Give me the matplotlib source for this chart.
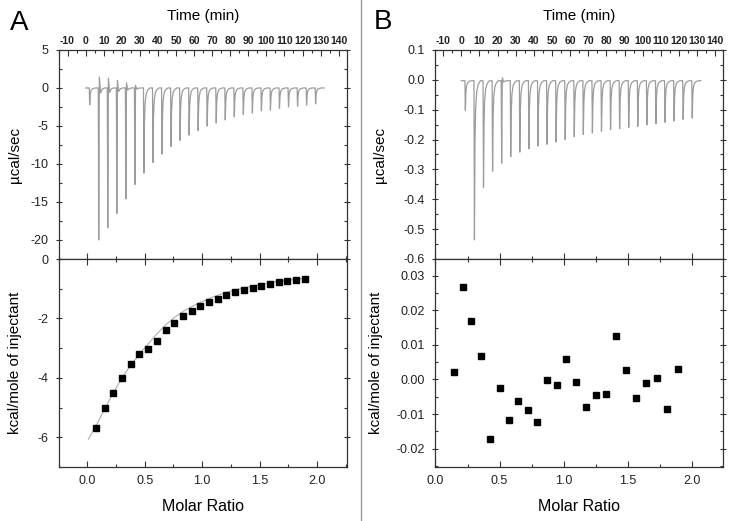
import matplotlib
matplotlib.use("Agg")
import matplotlib.pyplot as plt
from matplotlib.ticker import MultipleLocator, FormatStrFormatter
from matplotlib.lines import Line2D

plt.rcParams['font.family'] = ['Liberation Sans', 'DejaVu Sans']
plt.rcParams['axes.unicode_minus'] = False

# injection times (min), same for both runs
inj_time = [2, 7, 12, 17, 22, 27, 32, 37, 42, 47, 52, 57, 62, 67,
            72, 77, 82, 87, 92, 97, 102, 107, 112, 117, 122, 127]

# panel A raw thermogram: peak minima and positive overshoots (ucal/sec)
a_peak = [-2.2, -20.0, -18.4, -16.5, -14.6, -12.7, -11.2, -9.8, -8.7, -7.7,
          -6.9, -6.2, -5.6, -5.0, -4.6, -4.2, -3.8, -3.5, -3.3, -3.0,
          -2.9, -2.7, -2.5, -2.4, -2.25, -2.1]
a_over = [0, 1.45, 1.3, 1.0, 0.65, 0.35, 0, 0, 0, 0, 0, 0, 0, 0, 0, 0,
          0, 0, 0, 0, 0, 0, 0, 0, 0, 0]
a_base = 0.0

# panel B raw thermogram
b_peak = [-0.102, -0.536, -0.36, -0.306, -0.279, -0.257, -0.242, -0.231,
          -0.222, -0.216, -0.208, -0.2, -0.19, -0.183, -0.178, -0.172,
          -0.167, -0.164, -0.159, -0.156, -0.151, -0.147, -0.142, -0.138,
          -0.132, -0.128]
b_over = [0, 0, 0, 0, 0.01, 0, 0, 0, 0, 0, 0, 0, 0, 0, 0, 0,
          0, 0, 0, 0, 0, 0, 0, 0, 0, 0]
b_base = -0.003

# panel A integrated heats (kcal/mole of injectant)
a_ratio = [0.075, 0.151, 0.227, 0.302, 0.378, 0.454, 0.529, 0.605, 0.681,
           0.757, 0.832, 0.908, 0.984, 1.059, 1.135, 1.211, 1.286, 1.362,
           1.438, 1.514, 1.589, 1.665, 1.741, 1.816, 1.892]
a_heat = [-5.68, -5.03, -4.50, -4.01, -3.53, -3.18, -3.02, -2.75, -2.40,
          -2.14, -1.91, -1.74, -1.57, -1.44, -1.33, -1.22, -1.11, -1.03,
          -0.98, -0.91, -0.84, -0.78, -0.74, -0.70, -0.66]
fit_ratio = [0.01, 0.075, 0.151, 0.227, 0.302, 0.378, 0.454, 0.529, 0.605,
             0.681, 0.757, 0.832, 0.908, 0.984, 1.059, 1.135, 1.211, 1.286,
             1.362, 1.438, 1.514, 1.589, 1.665, 1.741, 1.816, 1.892]
fit_heat = [-6.06, -5.62, -5.05, -4.50, -4.00, -3.57, -3.20, -2.86, -2.52,
            -2.22, -1.97, -1.77, -1.60, -1.46, -1.33, -1.22, -1.12, -1.04,
            -0.97, -0.91, -0.85, -0.80, -0.75, -0.71, -0.68, -0.65]

# panel B integrated heats
b_ratio = [0.141, 0.214, 0.281, 0.354, 0.427, 0.500, 0.573, 0.646, 0.721,
           0.794, 0.870, 0.945, 1.021, 1.099, 1.174, 1.253, 1.331, 1.409,
           1.484, 1.565, 1.646, 1.727, 1.807, 1.891]
b_heat = [0.0022, 0.0268, 0.0168, 0.0067, -0.0172, -0.0026, -0.0117, -0.0062,
          -0.0087, -0.0122, -0.0002, -0.0017, 0.0058, -0.0007, -0.0080,
          -0.0045, -0.0041, 0.0126, 0.0028, -0.0053, -0.0009, 0.0004,
          -0.0084, 0.0030]

# shape of one injection peak: (time offset, fraction of peak depth)
SHAPE = [(0.0, 0.0), (0.25, 1.0), (0.55, 0.4), (0.9, 0.18), (1.5, 0.07),
         (2.3, 0.025), (3.5, 0.0)]

GREY = '#9c9c9c'
FRAME = '#333333'


def build_trace(times, peaks, over, base, t_end=132):
    t, y = [0.0], [base]
    for ti, p, o in zip(times, peaks, over):
        for dt, f in SHAPE:
            if o and dt == 0.55:
                t += [ti + 0.6, ti + 1.3, ti + 2.2]
                y += [base + o, base - 0.45 * o, base - 0.1 * o]
                break
            t.append(ti + dt)
            y.append(base + f * (p - base))
        else:
            continue
        t.append(ti + 3.5)
        y.append(base)
    t.append(t_end)
    y.append(base)
    return t, y


def style(ax):
    for s in ax.spines.values():
        s.set_color(FRAME)
        s.set_linewidth(0.9)
    ax.tick_params(which='both', colors=FRAME, width=0.8, labelsize=9,
                   labelcolor='#222222')
    ax.tick_params(which='major', length=4)
    ax.tick_params(which='minor', length=2.5)


def raw_panel(ax, times, peaks, over, base, tlim, rlim, ylim, ystep, fmt):
    t, y = build_trace(times, peaks, over, base)
    ax.plot(t, y, color=GREY, lw=0.9)
    ax.set_xlim(tlim)
    ax.set_ylim(ylim)
    style(ax)
    ax.xaxis.tick_top()
    ax.xaxis.set_major_locator(MultipleLocator(10))
    ax.xaxis.set_minor_locator(MultipleLocator(5))
    ax.tick_params(axis='x', which='both', direction='in', pad=3)
    for lb in ax.get_xticklabels():
        lb.set_fontsize(7.5)
        lb.set_fontweight('bold')
    ax.yaxis.set_major_locator(MultipleLocator(ystep))
    ax.yaxis.set_minor_locator(MultipleLocator(ystep / 2))
    ax.yaxis.set_major_formatter(FormatStrFormatter(fmt))
    ax.tick_params(axis='y', which='both', direction='in', left=True,
                   right=True, pad=5)
    ax.tick_params(axis='y', which='major', direction='inout', length=5)

    k = (rlim[1] - rlim[0]) / (tlim[1] - tlim[0])
    sec = ax.secondary_xaxis('bottom',
                             functions=(lambda v: rlim[0] + (v - tlim[0]) * k,
                                        lambda v: tlim[0] + (v - rlim[0]) / k))
    sec.xaxis.set_major_locator(MultipleLocator(0.5))
    sec.xaxis.set_minor_locator(MultipleLocator(0.25))
    sec.tick_params(which='both', direction='in', colors=FRAME, width=0.8,
                    labelbottom=False)
    sec.tick_params(which='major', length=4)
    sec.tick_params(which='minor', length=2.5)
    sec.spines['bottom'].set_visible(False)

    ax.set_xlabel('Time (min)', fontsize=11)
    ax.xaxis.set_label_position('top')
    ax.xaxis.set_label_coords(0.5, 1.163)
    ax.xaxis.label.set_va('center')
    ax.set_ylabel('\u00b5cal/sec', fontsize=11)


def heat_panel(ax, rlim, ylim, ystep, fmt):
    ax.set_xlim(rlim)
    ax.set_ylim(ylim)
    style(ax)
    ax.xaxis.set_major_locator(MultipleLocator(0.5))
    ax.xaxis.set_minor_locator(MultipleLocator(0.25))
    ax.xaxis.set_major_formatter(FormatStrFormatter('%.1f'))
    ax.yaxis.set_major_locator(MultipleLocator(ystep))
    ax.yaxis.set_minor_locator(MultipleLocator(ystep / 2))
    ax.yaxis.set_major_formatter(FormatStrFormatter(fmt))
    ax.tick_params(axis='x', which='both', direction='in', top=True, pad=6)
    ax.tick_params(axis='y', which='both', direction='in', right=True, pad=5)
    ax.tick_params(axis='y', which='major', direction='inout', length=5)
    ax.set_xlabel('Molar Ratio', fontsize=11.5)
    ax.xaxis.set_label_coords(0.5, -0.192)
    ax.xaxis.label.set_va('center')
    ax.set_ylabel('kcal/mole of injectant', fontsize=11)


fig = plt.figure(figsize=(7.37, 5.21), dpi=100)

axA1 = fig.add_axes([0.0794, 0.5029, 0.3914, 0.4012])
axA2 = fig.add_axes([0.0794, 0.1036, 0.3914, 0.3992])
axB1 = fig.add_axes([0.5909, 0.5029, 0.3901, 0.4012])
axB2 = fig.add_axes([0.5909, 0.1036, 0.3901, 0.3992])

raw_panel(axA1, inj_time, a_peak, a_over, a_base, (-15, 144.6),
          (-0.25, 2.26), (-22.5, 5), 5, '%d')
raw_panel(axB1, inj_time, b_peak, b_over, b_base, (-14.2, 144.2),
          (0.0, 2.245), (-0.6, 0.1), 0.1, '%.1f')

heat_panel(axA2, (-0.25, 2.26), (-7, 0), 2, '%d')
axA2.plot(fit_ratio, fit_heat, color='#b5b5b5', lw=0.9, zorder=2)
axA2.plot(a_ratio, a_heat, 's', color='black', ms=5, zorder=3)

heat_panel(axB2, (0.0, 2.245), (-0.0253, 0.0348), 0.01, '%.2f')
axB2.plot(b_ratio, b_heat, 's', color='black', ms=5, zorder=3)

axA1.yaxis.set_label_coords(-0.127, 0.5)
axA2.yaxis.set_label_coords(-0.127, 0.5)
axB1.yaxis.set_label_coords(-0.169, 0.5)
axB2.yaxis.set_label_coords(-0.182, 0.5)

fig.text(19 / 737, 1 - 23 / 521, 'A', fontsize=20, ha='center', va='center')
fig.text(383 / 737, 1 - 22 / 521, 'B', fontsize=20, ha='center', va='center')
fig.add_artist(Line2D([361 / 737, 361 / 737], [0, 1], color='#999999', lw=1.0))

fig.savefig('out.png', dpi=100)
